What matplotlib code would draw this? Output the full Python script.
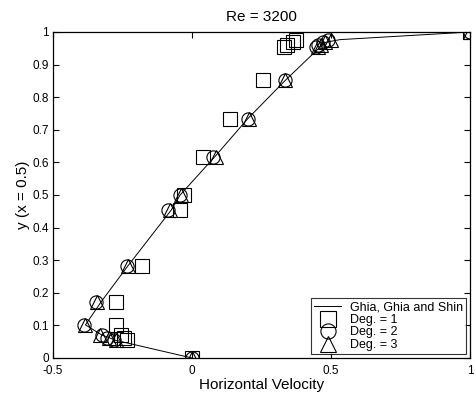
import matplotlib
matplotlib.use("Agg")
import matplotlib.pyplot as plt

plt.rcParams['font.family'] = ['Liberation Sans', 'DejaVu Sans']

# Ghia, Ghia and Shin (Re = 3200), vertical centerline
y_ghia = [1.0000, 0.9766, 0.9688, 0.9609, 0.9531, 0.8516, 0.7344, 0.6172,
          0.5000, 0.4531, 0.2813, 0.1719, 0.1016, 0.0703, 0.0625, 0.0547, 0.0000]
u_ghia = [1.00000, 0.53236, 0.48296, 0.46547, 0.45992, 0.33556, 0.20087, 0.08183,
          -0.04272, -0.07526, -0.23170, -0.32726, -0.38324, -0.32393, -0.29818, -0.27669, 0.00000]

u_deg1 = [1.0, 0.375, 0.365, 0.34, 0.33, 0.255, 0.137, 0.04,
          -0.03, -0.043, -0.18, -0.272, -0.272, -0.255, -0.245, -0.235, 0.0]
u_deg2 = [1.0, 0.49, 0.47, 0.455, 0.445, 0.335, 0.20, 0.075,
          -0.043, -0.086, -0.234, -0.345, -0.39, -0.325, -0.305, -0.28, 0.0]
u_deg3 = [1.0, 0.50, 0.48, 0.465, 0.455, 0.335, 0.205, 0.085,
          -0.04, -0.08, -0.23, -0.34, -0.385, -0.33, -0.30, -0.275, 0.0]

xticks = [-0.5, 0, 0.5, 1]
xticklabels = ['-0.5', '0', '0.5', '1']
yticks = [0, 0.1, 0.2, 0.3, 0.4, 0.5, 0.6, 0.7, 0.8, 0.9, 1]
yticklabels = ['0', '0.1', '0.2', '0.3', '0.4', '0.5', '0.6', '0.7', '0.8', '0.9', '1']

fig = plt.figure(figsize=(4.76, 4.03), dpi=100)
ax = fig.add_axes([53/476, 1-358/403, (470-53)/476, (358-32)/403])

ax.plot(u_ghia, y_ghia, '-', color='black', lw=0.7, label='Ghia, Ghia and Shin')
mk = dict(linestyle='none', markerfacecolor='none', markeredgecolor='black',
          markeredgewidth=0.8, markersize=9.5)
ax.plot(u_deg1, y_ghia, marker='s', label='Deg. = 1', **mk)
ax.plot(u_deg2, y_ghia, marker='o', label='Deg. = 2', **mk)
ax.plot(u_deg3, y_ghia, marker='^', label='Deg. = 3', **mk)

ax.set_xlim(-0.5, 1)
ax.set_ylim(0, 1)
ax.set_xticks(xticks)
ax.set_xticklabels(xticklabels)
ax.set_yticks(yticks)
ax.set_yticklabels(yticklabels)
ax.tick_params(direction='in', top=True, right=True, length=4, width=0.8,
               labelsize=8.5, pad=3)
ax.tick_params(axis='x', pad=5)
for s in ax.spines.values():
    s.set_linewidth(0.9)

ax.set_title('Re = 3200', fontsize=11, pad=8)
ax.set_xlabel('Horizontal Velocity', fontsize=11, labelpad=1)
ax.set_ylabel('y (x = 0.5)', fontsize=11, labelpad=2)

leg = ax.legend(loc='lower right', fontsize=9, frameon=True, fancybox=False,
                edgecolor='black', borderpad=0.25, labelspacing=0.05,
                handlelength=2.2, handletextpad=0.7, borderaxespad=0.3,
                markerscale=1.15)
leg.get_frame().set_linewidth(0.8)

fig.savefig('out.png', dpi=100)
